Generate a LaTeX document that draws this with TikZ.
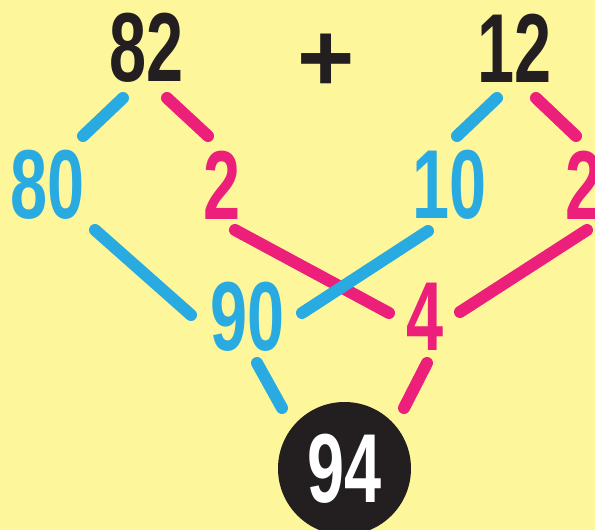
\documentclass[tikz,border=0pt]{standalone}
\usepackage{fontspec}
\setmainfont{Liberation Sans}
\usepackage{graphicx}

\definecolor{paper}{HTML}{FEF69A}
\definecolor{cblue}{HTML}{29ABE2}
\definecolor{cpink}{HTML}{EC1F7A}
\definecolor{cblack}{HTML}{231F20}

\newcommand{\nb}[1]{\scalebox{0.68}[1]{#1}}

\tikzset{
  num/.style={font=\fontsize{98}{98}\selectfont\bfseries, inner sep=0pt},
  bline/.style={line width=12pt, line cap=round, cblue},
  pline/.style={line width=12pt, line cap=round, cpink}
}

\begin{document}
\begin{tikzpicture}[x=1pt, y=-1pt]
        % background
        \fill[paper] (0,0) rectangle (595,530);
        \useasboundingbox (0,0) rectangle (595,530);

        % sum on top
        \node[num, text=cblack] (n82) at (147,48) {\nb{82}};
        \node[num, text=cblack, anchor=base] (plus) at (326,91) {+};
        \node[num, text=cblack] (n12) at (515,48) {\nb{12}};

        % split into tens and ones
        \node[num, text=cblue] (n80) at (48,185) {\nb{80}};
        \node[num, text=cpink] (n2a) at (222,185) {\nb{2}};
        \node[num, text=cblue] (n10) at (450,185) {\nb{10}};
        \node[num, text=cpink] (n2b) at (584,185) {\nb{2}};

        % partial sums
        \node[num, text=cblue] (n90) at (248,317) {\nb{90}};
        \node[num, text=cpink] (n4) at (425,317) {\nb{4}};

        % result
        \node[num, circle, fill=cblack, text=white, minimum size=133pt] (n94) at (344.5,468.5) {\nb{94}};

        % pink connectors
        \draw[pline] ([shift={(20,50)}]n82.center) -- ([shift={(-14,-49)}]n2a.center);
        \draw[pline] ([shift={(21,50)}]n12.center) -- ([shift={(-8,-49)}]n2b.center);
        \draw[pline] ([shift={(13,45)}]n2a.center) -- ([shift={(-36,-4)}]n4.center);
        \draw[pline] ([shift={(3,45)}]n2b.center) -- ([shift={(35,-5)}]n4.center);
        \draw[pline] ([shift={(2,46)}]n4.center) -- ([shift={(59.5,-60.5)}]n94.center);

        % blue connectors
        \draw[bline] ([shift={(-24,50)}]n82.center) -- ([shift={(35,-49)}]n80.center);
        \draw[bline] ([shift={(-18,50)}]n12.center) -- ([shift={(7,-49)}]n10.center);
        \draw[bline] ([shift={(47,45)}]n80.center) -- ([shift={(-57,-2)}]n90.center);
        \draw[bline] ([shift={(-22,46)}]n10.center) -- ([shift={(54,-4)}]n90.center);
        \draw[bline] ([shift={(9,46)}]n90.center) -- ([shift={(-62.5,-60.5)}]n94.center);
\end{tikzpicture}
\end{document}
